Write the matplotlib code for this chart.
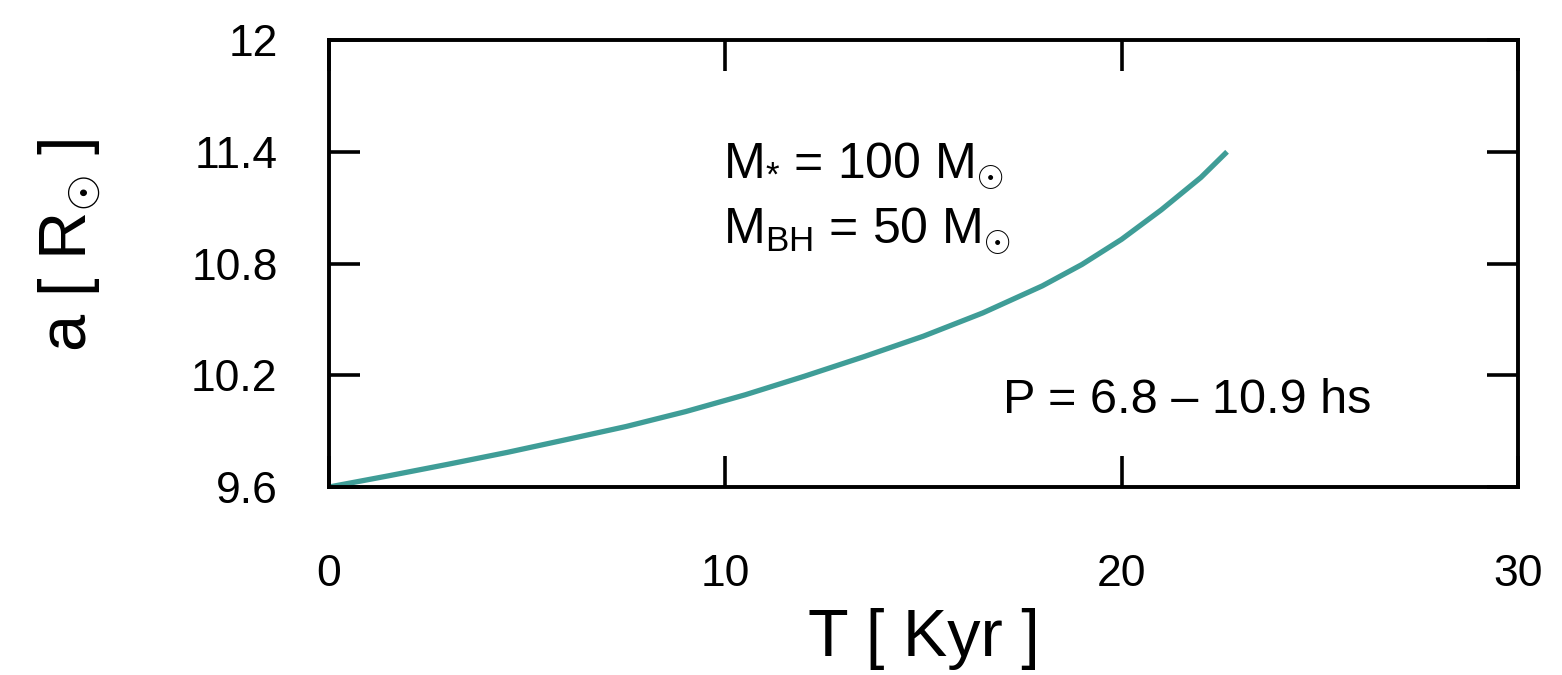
import matplotlib
matplotlib.use("Agg")
import matplotlib.pyplot as plt

# curve: time [Kyr] vs separation a [R_sun]
t_kyr = [0.0, 1.5, 3.0, 4.5, 6.0, 7.5, 9.0, 10.5, 12.0, 13.5, 15.0,
         16.5, 18.0, 19.0, 20.0, 21.0, 22.0, 22.66]
a_rsun = [9.600, 9.660, 9.722, 9.786, 9.855, 9.925, 10.005, 10.095, 10.195,
          10.300, 10.410, 10.535, 10.680, 10.795, 10.930, 11.088, 11.262, 11.400]

xticks = [0, 10, 20, 30]
yticks = [9.6, 10.2, 10.8, 11.4, 12.0]
ytick_labels = ['9.6', '10.2', '10.8', '11.4', '12']

plt.rcParams['font.family'] = ['Liberation Sans', 'DejaVu Sans']
plt.rcParams['mathtext.fontset'] = 'custom'
plt.rcParams['mathtext.rm'] = 'Liberation Sans'
plt.rcParams['mathtext.it'] = 'Liberation Sans'

fig = plt.figure(figsize=(15.62, 6.75), dpi=100)
ax = fig.add_axes([0.2106, 0.2785, 0.7612, 0.6622])

ax.plot(t_kyr, a_rsun, color='#3f9d97', lw=3.8, solid_capstyle='butt',
        solid_joinstyle='round')

ax.set_xlim(0, 30)
ax.set_ylim(9.6, 12)
ax.set_xticks(xticks)
ax.set_xticklabels([str(v) for v in xticks])
ax.set_yticks(yticks)
ax.set_yticklabels(ytick_labels)

ax.tick_params(direction='in', length=22, width=2.6, top=True, right=True,
               labelsize=32)
ax.tick_params(axis='x', pad=48)
ax.tick_params(axis='y', pad=37)
for sp in ax.spines.values():
    sp.set_linewidth(2.8)

ax.set_xlabel('T [ Kyr ]', fontsize=48)
ax.xaxis.set_label_coords(0.5, -0.27)
ax.set_ylabel(r'a [ R$_{\odot}$ ]', fontsize=48)
ax.yaxis.set_label_coords(-0.19, 0.54)

ax.text(9.95, 11.26, r'M$_{*}$ = 100 M$_{\odot}$', fontsize=36, va='baseline')
ax.text(9.95, 10.91, r'M$_{\rm BH}$ = 50 M$_{\odot}$', fontsize=36, va='baseline')
ax.text(17.0, 10.0, 'P = 6.8 – 10.9 hs', fontsize=35, va='baseline')

fig.savefig('out.png', dpi=100)
